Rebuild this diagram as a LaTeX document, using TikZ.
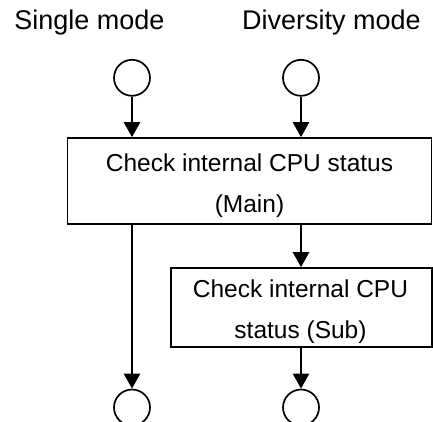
\documentclass[tikz,border=0pt]{standalone}
\usepackage{fontspec}
\setmainfont{Liberation Sans}
\usetikzlibrary{arrows.meta}
\begin{document}
\begin{tikzpicture}[x=1pt,y=-1pt,
  connector/.style={line width=2.3pt,-{Triangle[width=16pt,length=15pt]}},
  terminal/.style={circle,draw,line width=1.7pt,minimum size=36pt,inner sep=0pt},
  stepbox/.style={draw,line width=1.6pt,inner sep=0pt},
  boxtext/.style={font=\fontsize{24.5pt}{41pt}\selectfont,align=center,inner sep=0pt},
  modelabel/.style={font=\fontsize{27pt}{30pt}\selectfont,inner sep=0pt,anchor=base}]
\path[use as bounding box,fill=white] (0,0) rectangle (433,421);
\clip (0,0) rectangle (433,421);

% mode headings
\node[modelabel] (single) at (89.5,29) {Single mode};
\node[modelabel] (diversity) at (331.5,29) {Diversity mode};

% entry terminals
\node[terminal] (inA) at (132,77.8) {};
\node[terminal] (inB) at (301,77.8) {};

% processing boxes
\node[stepbox,minimum width=364pt,minimum height=86pt] (main) at (249.3,181) {};
\node[boxtext] (maintext) at (249.5,186) {Check internal CPU status\\(Main)};
\node[stepbox,minimum width=261pt,minimum height=79pt] (sub) at (301.3,307.5) {};
\node[boxtext] (subtext) at (300.5,311.2) {Check internal CPU\\status (Sub)};

% exit terminals (cut by the lower edge)
\node[terminal] (outA) at (132,407.5) {};
\node[terminal] (outB) at (301,407.5) {};

% flow
\draw[connector] (inA) -- (inA |- main.north);
\draw[connector] (inB) -- (inB |- main.north);
\draw[connector] (main.south -| inA) -- (outA);
\draw[connector] (main.south -| outB) -- (outB |- sub.north);
\draw[connector] (sub.south -| outB) -- (outB);
\end{tikzpicture}
\end{document}
